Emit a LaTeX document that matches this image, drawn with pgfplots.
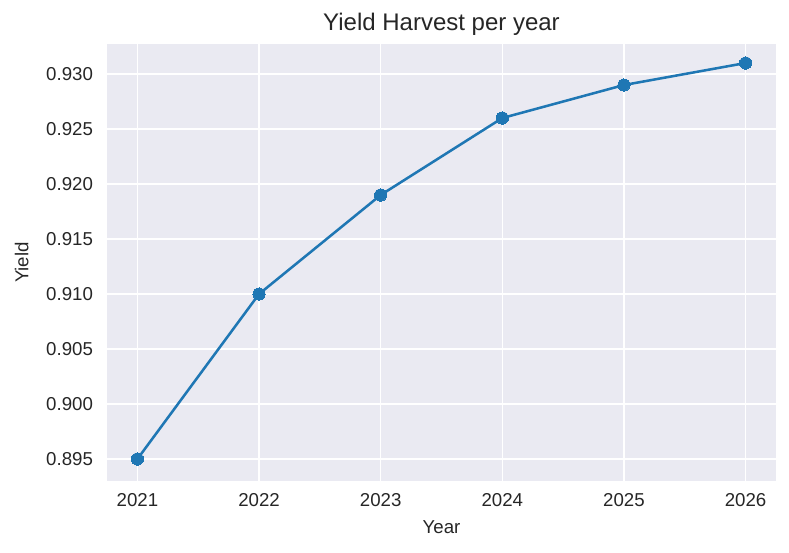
\documentclass[border=0pt]{standalone}
\usepackage{fontspec}
\setmainfont{Liberation Sans}
\usepackage{pgfplots}
\pgfplotsset{compat=1.18}
\definecolor{sbbg}{HTML}{EAEAF2}
\definecolor{mplblue}{HTML}{1F77B4}
\definecolor{txt}{HTML}{262626}
\begin{document}
\begin{tikzpicture}
\useasboundingbox (-80.25pt,-54pt) rectangle (511.5pt,360.75pt);
\begin{axis}[
  scale only axis,
  width=501.75pt, height=327.75pt,
  xmin=2020.75, xmax=2026.25,
  ymin=0.893, ymax=0.93273,
  axis background/.style={fill=sbbg},
  axis line style={draw=none},
  grid=major,
  major grid style={white, line width=1pt},
  tick style={draw=none},
  xtick={2021,2022,2023,2024,2025,2026},
  ytick={0.895,0.900,0.905,0.910,0.915,0.920,0.925,0.930},
  xticklabel style={/pgf/number format/1000 sep={}, font=\fontsize{14}{16}\selectfont, text=txt, yshift=-5.5pt},
  yticklabel style={/pgf/number format/fixed, /pgf/number format/fixed zerofill, /pgf/number format/precision=3, font=\fontsize{14}{16}\selectfont, text=txt, xshift=-7pt},
  /pgf/number format/assume math mode=true,
  title={Yield Harvest per year},
  title style={font=\fontsize{18}{21}\selectfont, text=txt, at={(axis description cs:0.5,1)}, anchor=center, yshift=9pt},
  xlabel={Year}, ylabel={Yield},
  xlabel style={font=\fontsize{14}{16}\selectfont, text=txt, at={(axis description cs:0.5,0)}, anchor=center, yshift=-34.5pt},
  ylabel style={font=\fontsize{14}{16}\selectfont, text=txt, at={(axis description cs:0,0.5)}, anchor=center, yshift=64pt},
]
\addplot[mplblue, line width=1.9pt, mark=*, mark size=4.6pt, mark options={fill=mplblue, draw=mplblue, line width=0pt}]
coordinates {(2021,0.895) (2022,0.910) (2023,0.919) (2024,0.926) (2025,0.929) (2026,0.931)};
\end{axis}
\end{tikzpicture}
\end{document}
